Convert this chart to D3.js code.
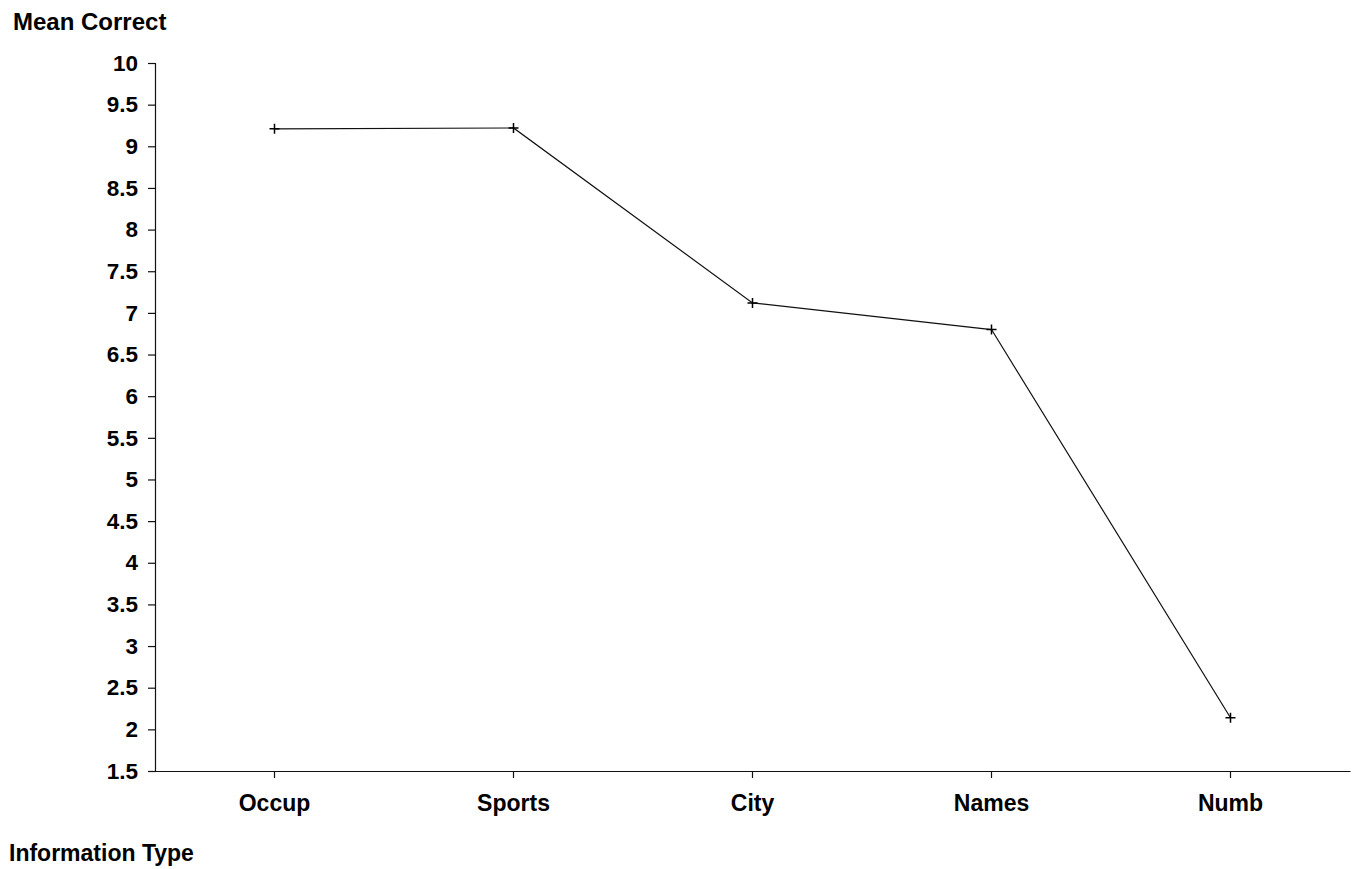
<!DOCTYPE html>
<html>
<head>
<meta charset="utf-8">
<script src="https://cdn.jsdelivr.net/npm/d3@7"></script>
<style>
  html, body { margin: 0; padding: 0; background: #fff; }
  svg { display: block; }
  text { font-family: "Liberation Sans", Arial, sans-serif; font-weight: bold; fill: #000; }
</style>
</head>
<body>
<svg id="chart" width="1357" height="869"></svg>
<script>
const categories = ["Occup", "Sports", "City", "Names", "Numb"];
const meanCorrect = [9.21, 9.22, 7.12, 6.80, 2.14];
const yTicks = [1.5, 2, 2.5, 3, 3.5, 4, 4.5, 5, 5.5, 6, 6.5, 7, 7.5, 8, 8.5, 9, 9.5, 10];
const yTitle = "Mean Correct";
const xTitle = "Information Type";

(function () {
const svg = d3.select("#chart");
const mLeft = 155, mRight = 1350, mTop = 63, mBottom = 771;

const x = d3.scaleBand().domain(categories).range([mLeft, mRight]);
const y = d3.scaleLinear().domain([1.5, 10]).range([mBottom, mTop]);

const fontSize = 22.5;

// Y axis
const yAxis = svg.append("g").attr("transform", `translate(${mLeft},0)`)
  .call(d3.axisLeft(y).tickValues(yTicks).tickSize(7).tickPadding(10)
    .tickFormat(d => d3.format("")(d)));
yAxis.select(".domain").attr("stroke", "#111").attr("stroke-width", 1.2);
yAxis.selectAll(".tick line").attr("stroke", "#111").attr("stroke-width", 1.2);
yAxis.selectAll(".tick text").style("font-size", fontSize + "px").style("font-family", "Liberation Sans, Arial, sans-serif").style("font-weight", "bold").attr("fill", "#000");

// X axis
const xAxis = svg.append("g").attr("transform", `translate(0,${mBottom})`)
  .call(d3.axisBottom(x).tickSize(7).tickSizeOuter(0).tickPadding(17));
xAxis.select(".domain").attr("stroke", "#111").attr("stroke-width", 1.2);
xAxis.selectAll(".tick line").attr("stroke", "#111").attr("stroke-width", 1.2);
xAxis.selectAll(".tick text").style("font-size", "23px").style("font-family", "Liberation Sans, Arial, sans-serif").style("font-weight", "bold").attr("fill", "#000");

// Line
const cx = d => x(d) + x.bandwidth() / 2;
const line = d3.line().x((d, i) => cx(categories[i])).y(d => y(d));
svg.append("path").datum(meanCorrect)
  .attr("d", line).attr("fill", "none").attr("stroke", "#111").attr("stroke-width", 1.2);

// Markers (+)
const mk = svg.append("g");
meanCorrect.forEach((v, i) => {
  const px = cx(categories[i]), py = y(v);
  mk.append("path").attr("d", `M${px-5},${py}H${px+5}M${px},${py-5}V${py+5}`)
    .attr("stroke", "#000").attr("stroke-width", 1.5);
});

// Titles
svg.append("text").attr("x", 13).attr("y", 30).style("font-size", "24px").text(yTitle);
svg.append("text").attr("x", 9).attr("y", 861).style("font-size", "23px").text(xTitle);
})();
</script>
</body>
</html>
